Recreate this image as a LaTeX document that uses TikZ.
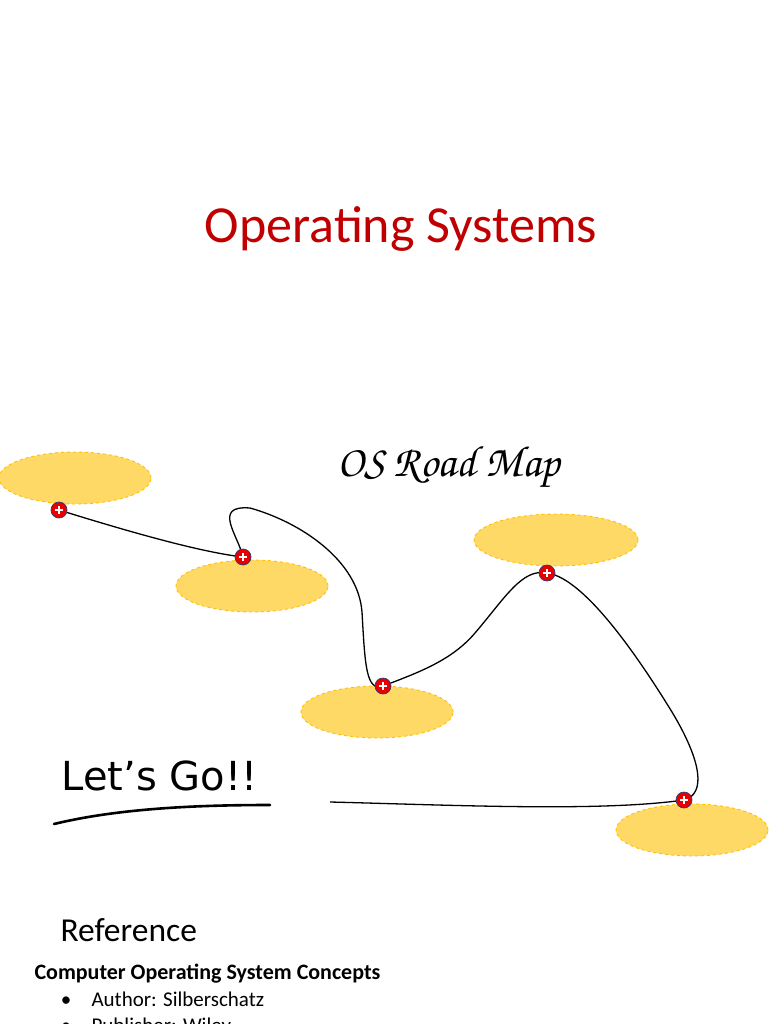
\documentclass[tikz,border=0pt]{standalone}
\usepackage{fontspec}
\setmainfont{Carlito}
\newfontfamily\handfont{DejaVu Sans}
\usetikzlibrary{shapes.geometric, positioning}
\definecolor{cTitle}{RGB}{192,0,0}
\definecolor{cStop}{RGB}{255,217,102}
\definecolor{cStopEdge}{RGB}{255,192,0}
\definecolor{cPin}{RGB}{230,0,0}
\definecolor{cPinEdge}{RGB}{47,60,120}
\newcommand{\chancery}{\fontencoding{T1}\fontfamily{pzc}\fontseries{mb}\fontshape{it}\selectfont}
\tikzset{
	stop/.style     ={ellipse, draw=cStopEdge, dashed, fill=cStop, line width=0.9pt, minimum width=152pt, minimum height=52pt, inner sep=0pt},
	pin/.style      ={circle, draw=cPinEdge, fill=cPin, line width=0.7pt, minimum size=16pt, inner sep=0pt,
	                  path picture={\draw[white, line width=1.2pt] (path picture bounding box.center) ++(-4pt,0) -- ++(8pt,0)
	                  (path picture bounding box.center) ++(0,-4pt) -- ++(0,8pt);}},
	road/.style     ={line width=1.3pt, black},
}
\begin{document}
\begin{tikzpicture}[x=1pt, y=-1pt]
	\useasboundingbox[fill=white] (0,0) rectangle (768,1024);
	% title
	\node[anchor=base, text=cTitle, font=\fontsize{52}{60}\selectfont] (title) at (401,242) {Operating Systems};
	% stops on the map
	\node[stop] (s1) at (75,478) {};
	\node[stop] (s2) at (252,586) {};
	\node[stop] (s3) at (377,712) {};
	\node[stop, minimum width=164pt] (s4) at (556,540) {};
	\node[stop] (s5) at (692,830) {};
	\node[font=\chancery\fontsize{44}{48}\selectfont] (map) at (449,468) {OS Road Map};
	% the road
	\coordinate (start) at (330,802);
	\coordinate (m1) at (59,510);
	\coordinate (m2) at (243,557);
	\coordinate (m3) at (383,686);
	\coordinate (m4) at (547,573);
	\coordinate (m5) at (684,800);
	\draw[road] (m1) .. controls (130,532) and (200,552) .. (m2)
		.. controls (238,535) and (212,505) .. (250,508)
		.. controls (300,522) and (358,560) .. (362,612)
		.. controls (365,665) and (366,692) .. (m3)
		.. controls (420,672) and (452,660) .. (475,633)
		.. controls (505,598) and (522,568) .. (m4)
		.. controls (585,578) and (640,660) .. (672,712)
		.. controls (702,762) and (706,794) .. (m5)
		.. controls (600,812) and (450,805) .. (start);
	\foreach \m in {1,...,5}
		\node[pin] (p\m) at (m\m) {};
	% let's go
	\node[anchor=base west, font=\handfont\fontsize{40}{44}\selectfont] (go) at (58,790) {Let’s Go!!};
	\draw[line width=2.6pt, line cap=round] (54,824) .. controls (120,808) and (200,805) .. (270,805);
	% reference
	\node[anchor=base west, font=\fontsize{33.5}{38}\selectfont] (ref) at (57,941) {Reference};
	\node[anchor=base west, font=\bfseries\fontsize{22}{26}\selectfont] (book) at (31,979) {Computer Operating System Concepts};
	\node[anchor=base west, font=\fontsize{21}{25}\selectfont] (b1) at (88,1006) {Author: Silberschatz};
	\node[anchor=base west, font=\fontsize{21}{25}\selectfont] (b2) at (88,1032) {Publisher: Wiley};
	\node[anchor=base, font=\fontsize{21}{25}\selectfont] (d1) at (66,1006) {\textbullet};
	\node[anchor=base, font=\fontsize{21}{25}\selectfont] (d2) at (66,1032) {\textbullet};
\end{tikzpicture}
\end{document}
